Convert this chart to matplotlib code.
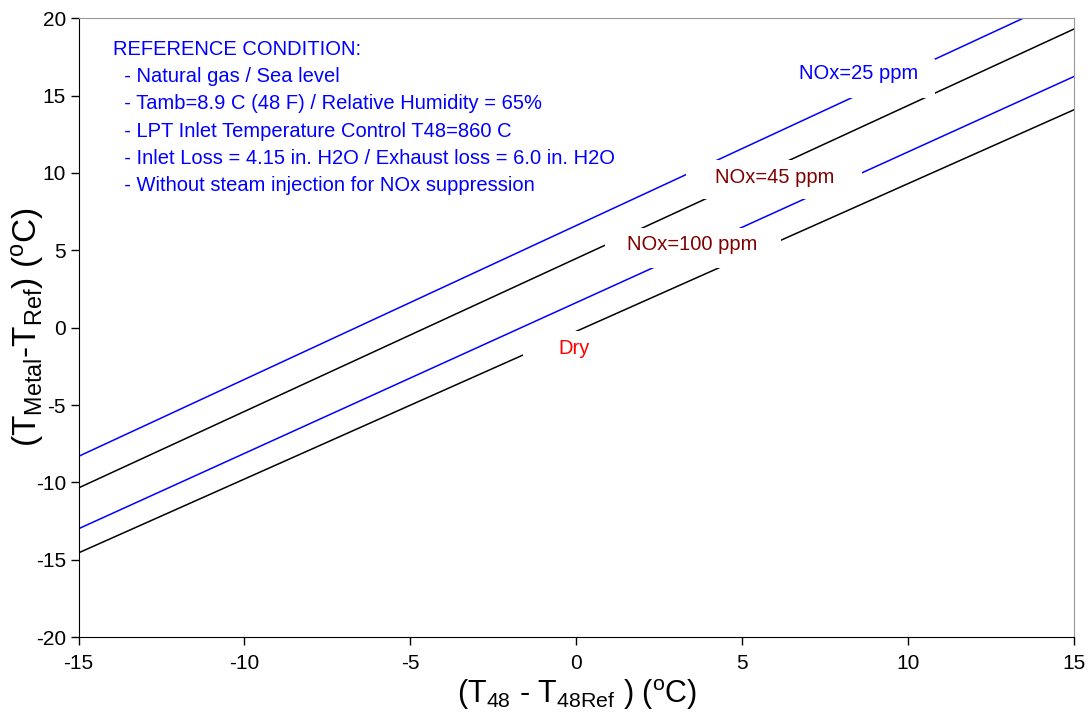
import numpy as np
import matplotlib.pyplot as plt
from matplotlib.patches import Rectangle

plt.rcParams['font.family'] = ['Liberation Sans', 'DejaVu Sans']
plt.rcParams['mathtext.fontset'] = 'custom'
plt.rcParams['mathtext.rm'] = 'Liberation Sans'
plt.rcParams['mathtext.it'] = 'Liberation Sans'
plt.rcParams['axes.unicode_minus'] = False

# data (straight lines, value at x=-15 and x=15)
dT48 = [-15, 15]
nox25 = [-8.32, 21.53]
nox45 = [-10.36, 19.31]
nox100 = [-13.0, 16.24]
dry = [-14.56, 14.09]

series = [nox25, nox45, nox100, dry]
line_colors = ['#0000ff', 'black', '#0000ff', 'black']

label_names = ['NOx=25 ppm', 'NOx=45 ppm', 'NOx=100 ppm', 'Dry']
label_colors = ['#0000ff', '#800000', '#800000', '#ff0000']

# label layout: text anchor (x, baseline y) and white box behind it (x0, x1, y0, y1)
label_xy = [(8.50, 16.10), (5.98, 9.37), (3.50, 5.04), (-0.08, -1.68)]
label_box = [(5.51, 10.81, 14.85, 17.34),
             (3.32, 8.62, 8.32, 10.81),
             (0.85, 6.18, 3.88, 6.46),
             (-1.62, 1.45, -2.71, -0.19)]

ref_lines = ['REFERENCE CONDITION:',
             '  - Natural gas / Sea level',
             '  - Tamb=8.9 C (48 F) / Relative Humidity = 65%',
             '  - LPT Inlet Temperature Control T48=860 C',
             '  - Inlet Loss = 4.15 in. H2O / Exhaust loss = 6.0 in. H2O',
             '  - Without steam injection for NOx suppression']

fig = plt.figure(figsize=(10.91, 7.12), dpi=100)
ax = fig.add_axes([0.072, 0.1053, 0.9125, 0.869])

for yv, c in zip(series, line_colors):
    ax.plot(dT48, yv, color=c, lw=1.1, zorder=2)

for name, c, (tx, ty), (x0, x1, y0, y1) in zip(label_names, label_colors, label_xy, label_box):
    ax.add_patch(Rectangle((x0, y0), x1 - x0, y1 - y0, facecolor='white',
                           edgecolor='none', zorder=3))
    ax.text(tx, ty, name, color=c, fontsize=14.5, ha='center', va='baseline', zorder=4)

# reference condition block, one text per line
for i, s in enumerate(ref_lines):
    ax.text(-13.97, 17.65 - i * 1.765, s, color='#0000ff', fontsize=14.5,
            ha='left', va='baseline', zorder=4)

ax.set_xlim(-15, 15)
ax.set_ylim(-20, 20)
ax.set_xticks(np.arange(-15, 16, 5))
ax.set_yticks(np.arange(-20, 21, 5))
ax.tick_params(direction='out', length=6, width=1, labelsize=15, top=False, right=False)
ax.tick_params(axis='x', pad=6)
ax.tick_params(axis='y', pad=3)

for side in ['top', 'right']:
    ax.spines[side].set_color('#999999')
for side in ['left', 'bottom']:
    ax.spines[side].set_color('black')

fig.text(577 / 1091, 1 - 695 / 712,
         r'$\mathregular{(T_{48}\text{ - }T_{48Ref}\ )\ (^{o}C)}$',
         fontsize=22, ha='center', va='center')
fig.text(27 / 1091, 1 - 327 / 712,
         r'$\mathregular{(T_{Metal}\text{-}T_{Ref})\ (^{o}C)}$',
         fontsize=24, ha='center', va='center', rotation=90)

fig.savefig('out.png', dpi=100)
